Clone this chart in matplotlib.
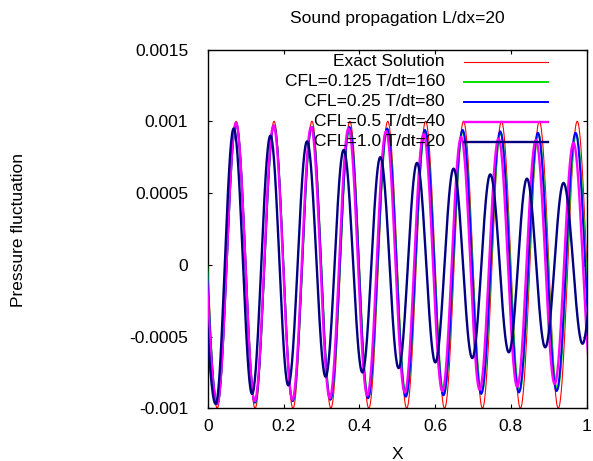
import numpy as np
import matplotlib
matplotlib.use("Agg")
import matplotlib.pyplot as plt
from matplotlib.ticker import FormatStrFormatter

plt.rcParams['font.family'] = ['Liberation Sans', 'DejaVu Sans']
plt.rcParams['font.size'] = 12.5

# positions and values of successive crests/troughs of each profile
# (first and last entries lie just outside 0..1)
exact_x = [-0.025, 0.025, 0.075, 0.125, 0.175, 0.225, 0.275, 0.325, 0.375, 0.425, 0.475,
           0.525, 0.575, 0.625, 0.675, 0.725, 0.775, 0.825, 0.875, 0.925, 0.975, 1.025]
exact_p = [0.001, -0.001, 0.001, -0.001, 0.001, -0.001, 0.001, -0.001, 0.001, -0.001, 0.001,
           -0.001, 0.001, -0.001, 0.001, -0.001, 0.001, -0.001, 0.001, -0.001, 0.001, -0.001]

cfl0125_x = [-0.029, 0.025, 0.075, 0.1247, 0.1748, 0.2244, 0.2745, 0.324, 0.3742, 0.4237, 0.4739,
             0.5234, 0.5735, 0.623, 0.6732, 0.7228, 0.7729, 0.8225, 0.8725, 0.9222, 0.9722, 1.022]
cfl0125_p = [0.00099, -0.00097, 0.00098, -0.00096, 0.00097, -0.00095, 0.00096, -0.00094, 0.00095, -0.00092, 0.00094,
             -0.00091, 0.00093, -0.00090, 0.00093, -0.00089, 0.00092, -0.00088, 0.00091, -0.00087, 0.00091, -0.00086]

cfl025_x = [-0.031, 0.025, 0.075, 0.1245, 0.1747, 0.224, 0.2742, 0.3235, 0.3738, 0.423, 0.4733,
            0.5225, 0.573, 0.622, 0.6725, 0.7215, 0.7718, 0.821, 0.8712, 0.9205, 0.9705, 1.0203]
cfl025_p = [0.00099, -0.00097, 0.00098, -0.00096, 0.00097, -0.00095, 0.00096, -0.00094, 0.00096, -0.00093, 0.00095,
            -0.00092, 0.00094, -0.00091, 0.00094, -0.00090, 0.00093, -0.00089, 0.00092, -0.00088, 0.00092, -0.00087]

cfl05_x = [-0.034, 0.0248, 0.0745, 0.124, 0.1737, 0.2235, 0.2727, 0.322, 0.3715, 0.421, 0.4705,
           0.520, 0.5695, 0.619, 0.6685, 0.7175, 0.7673, 0.8165, 0.866, 0.9155, 0.965, 1.0145]
cfl05_p = [0.00099, -0.00097, 0.00099, -0.00095, 0.00097, -0.00094, 0.00096, -0.00093, 0.00095, -0.00091, 0.00093,
           -0.00089, 0.00091, -0.00088, 0.00089, -0.00087, 0.00088, -0.00085, 0.00087, -0.00083, 0.00085, -0.00082]

cfl10_x = [-0.041, 0.021, 0.0686, 0.117, 0.1654, 0.2125, 0.2621, 0.311, 0.3587, 0.408, 0.4554, 0.5037,
           0.5522, 0.6005, 0.6487, 0.698, 0.7455, 0.7945, 0.8423, 0.8905, 0.9388, 0.989, 1.037]
cfl10_p = [0.00097, -0.00097, 0.00095, -0.00090, 0.00090, -0.00084, 0.00086, -0.00078, 0.00080, -0.00075, 0.00075, -0.00072,
           0.00071, -0.00068, 0.00067, -0.00065, 0.00063, -0.00061, 0.00060, -0.000575, 0.00057, -0.00055, 0.00054]

labels = ['Exact Solution', 'CFL=0.125 T/dt=160', 'CFL=0.25 T/dt=80',
          'CFL=0.5 T/dt=40', 'CFL=1.0 T/dt=20']
colors = ['#ff0000', '#00e000', '#0000ff', '#ff00ff', '#000080']
widths = [0.8, 1.4, 1.4, 1.7, 1.7]
series = [(exact_x, exact_p), (cfl0125_x, cfl0125_p), (cfl025_x, cfl025_p),
          (cfl05_x, cfl05_p), (cfl10_x, cfl10_p)]

xticks = [0, 0.2, 0.4, 0.6, 0.8, 1.0]
yticks = [-0.001, -0.0005, 0, 0.0005, 0.001, 0.0015]


def profile(ex, ev, n=40):
    # half-cosine between consecutive extrema
    xs, ys = [], []
    for x0, x1, v0, v1 in zip(ex[:-1], ex[1:], ev[:-1], ev[1:]):
        t = np.linspace(0, 1, n, endpoint=False)
        xs.append(x0 + (x1 - x0) * t)
        ys.append(v1 + (v0 - v1) * (1 + np.cos(np.pi * t)) / 2)
    xs.append([ex[-1]])
    ys.append([ev[-1]])
    return np.concatenate(xs), np.concatenate(ys)


fig = plt.figure(figsize=(5.93, 4.61), dpi=100)
ax = fig.add_axes([0.3503, 0.1143, 0.6391, 0.7783])

# key, gnuplot style: text right aligned, sample on the right
key_tx, key_x0, key_x1 = 0.626, 0.677, 0.897
key_y0, key_dy = 0.966, 0.0557

for i, ((ex, ev), lab, c, lw) in enumerate(zip(series, labels, colors, widths)):
    xs, ys = profile(ex, ev)
    ky = key_y0 - i * key_dy
    ax.text(key_tx, ky, lab, transform=ax.transAxes, ha='right', va='center', zorder=2 * i + 1)
    ax.plot([key_x0, key_x1], [ky, ky], transform=ax.transAxes, color=c, lw=lw, zorder=2 * i + 1)
    ax.plot(xs, ys, color=c, lw=lw, zorder=2 * i + 2)

ax.set_xlim(0, 1)
ax.set_ylim(-0.001, 0.0015)
ax.set_xticks(xticks)
ax.set_yticks(yticks)
ax.xaxis.set_major_formatter(FormatStrFormatter('%g'))
ax.yaxis.set_major_formatter(FormatStrFormatter('%g'))
ax.tick_params(direction='in', length=3, width=0.8, top=True, right=True)
ax.tick_params(axis='y', pad=14)
ax.tick_params(axis='x', pad=8)
for s in ax.spines.values():
    s.set_linewidth(1.0)

fig.text(397 / 593, 1 - 18 / 461, 'Sound propagation L/dx=20', ha='center', va='center')
fig.text(397 / 593, 1 - 454 / 461, 'X', ha='center', va='center')
fig.text(19 / 593, 1 - 230 / 461, 'Pressure fluctuation', ha='center', va='center', rotation=90)

fig.savefig('out.png', dpi=100)
